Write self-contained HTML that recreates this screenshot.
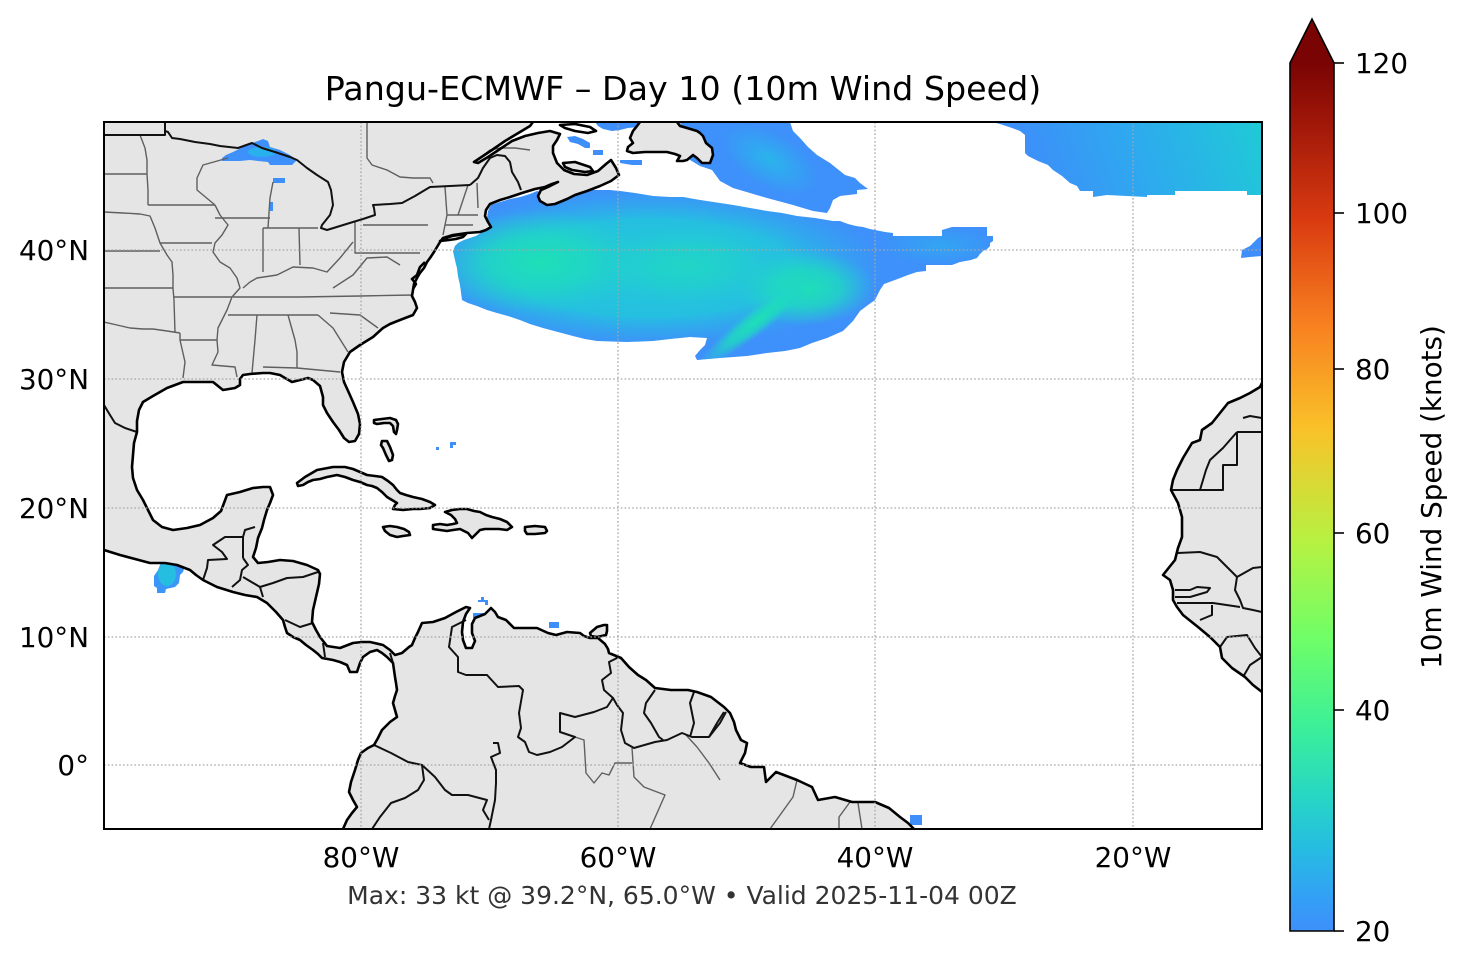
<!DOCTYPE html>
<html><head><meta charset="utf-8"><style>
html,body{margin:0;padding:0;background:#fff;}
svg{display:block;}
text{font-family:"DejaVu Sans","Liberation Sans",sans-serif;}
</style></head><body>
<svg width="1466" height="969" viewBox="0 0 1466 969" xmlns="http://www.w3.org/2000/svg">
<defs>
<clipPath id="mapclip"><rect x="104" y="122" width="1158" height="707"/></clipPath>
<linearGradient id="cbar" x1="0" y1="1" x2="0" y2="0">
<stop offset="0" stop-color="#3f8ffa"/>
<stop offset="0.036" stop-color="#339ff6"/>
<stop offset="0.096" stop-color="#26bde1"/>
<stop offset="0.157" stop-color="#27d7c3"/>
<stop offset="0.236" stop-color="#3cf098"/>
<stop offset="0.337" stop-color="#6ffe67"/>
<stop offset="0.446" stop-color="#b5f242"/>
<stop offset="0.578" stop-color="#f9c229"/>
<stop offset="0.699" stop-color="#f88020"/>
<stop offset="0.819" stop-color="#d93b10"/>
<stop offset="0.94" stop-color="#9b1408"/>
<stop offset="1" stop-color="#7a0403"/>
</linearGradient>
<radialGradient id="gCyan"><stop offset="0" stop-color="#22cbd6"/><stop offset="0.6" stop-color="#24c2df" stop-opacity="0.95"/><stop offset="1" stop-color="#2bb0ea" stop-opacity="0"/></radialGradient>
<radialGradient id="gTeal"><stop offset="0" stop-color="#1ee0b6"/><stop offset="0.5" stop-color="#1fd8c2" stop-opacity="0.8"/><stop offset="1" stop-color="#22cfd0" stop-opacity="0"/></radialGradient>
<radialGradient id="gLight"><stop offset="0" stop-color="#2ab4ec"/><stop offset="1" stop-color="#2ab4ec" stop-opacity="0"/></radialGradient>
<linearGradient id="gTR" x1="1040" y1="200" x2="1262" y2="122" gradientUnits="userSpaceOnUse"><stop offset="0" stop-color="#3d8ff9"/><stop offset="0.45" stop-color="#2ea9ef"/><stop offset="1" stop-color="#1fcad6"/></linearGradient>
<clipPath id="cMain"><path d="M453,251 L455,246 458,243 464,240 470,238 476,236 481,233 485,228 487,218 488,211 491,205 500,202 510,199 520,197 530,194 537,191 545,193 553,195 562,193 575,191 587,190 600,190 610,190 620,191 635,193 653,196 670,197 683,197 700,200 720,203 733,205 750,208 767,211 782,213 797,216 815,218 833,221 840,221 848,224 856,226 863,227 870,229 875,230 885,232 893,233 893,236 942,236 942,230 952,227 987,227 987,236 993,236 993,241 990,243 990,246 987,249 983,251 980,254 977,258 971,260 960,262 952,265 926,265 926,271 917,272 908,275 895,280 884,284 880,290 875,300 868,305 860,311 853,321 843,331 827,338 812,343 800,348 785,351 767,353 747,356 720,358 697,360 695,356 700,350 705,345 707,338 690,337 670,339 653,341 627,342 597,341 585,339 573,336 558,332 543,328 530,324 520,320 508,316 497,313 487,310 477,306 468,303 462,300 461,292 460,285 458,276 457,268 455,260 Z"/></clipPath>
</defs>

<g clip-path="url(#mapclip)">
 <g clip-path="url(#cMain)">
  <rect x="440" y="180" width="570" height="190" fill="#3e90fa"/>
  <ellipse cx="650" cy="268" rx="235" ry="80" fill="url(#gCyan)"/>
  <ellipse cx="540" cy="262" rx="105" ry="52" fill="url(#gTeal)"/>
  <ellipse cx="690" cy="265" rx="90" ry="40" fill="url(#gTeal)" opacity="0.55"/>
  <ellipse cx="805" cy="288" rx="70" ry="38" fill="url(#gTeal)"/>
  <ellipse cx="758" cy="320" rx="75" ry="13" transform="rotate(-38 758 320)" fill="url(#gTeal)"/>
  <ellipse cx="940" cy="246" rx="60" ry="20" fill="url(#gLight)" opacity="0.6"/>
 </g>
 <path d="M680,122 L790,122 793,131 800,138 808,147 817,155 830,163 840,171 845,175 855,178 860,183 864,186 868,189 857,190 857,194 840,196 833,200 830,208 827,213 813,211 793,205 767,198 750,193 733,188 720,181 712,170 700,166 690,160 685,140 Z" fill="#3e90fa"/>
 <ellipse cx="770" cy="160" rx="55" ry="28" transform="rotate(30 770 160)" fill="url(#gLight)"/>
 <path d="M993,122 L1262,122 1262,195 1247,195 1247,191 1175,191 1175,195 1147,195 1147,197 1107,195 1093,197 1093,191 1080,191 1077,186 1070,183 1062,176 1053,170 1048,165 1038,161 1028,156 1025,153 1025,135 1020,131 1012,128 1003,125 Z" fill="url(#gTR)"/>
 <polygon points="1241,258 1242,250 1250,246 1255,241 1258,238 1262,236 1262,256 1250,257" fill="#3f8ffa"/>
 <polygon points="160,565 165,559 172,558 178,561 180,567 184,569 183,572 180,575 179,583 175,587 166,589 165,593 157,593 157,588 154,586 154,576 158,570" fill="#3a96f7"/>
 <ellipse cx="167" cy="574" rx="9" ry="12" fill="#26bee0"/>
 <rect x="436" y="447" width="3" height="3" fill="#3f8ffa"/>
 <polygon points="450,442 456,442 456,445 453,445 453,448 450,448" fill="#3f8ffa"/>
 <polygon points="481,597 484,597 484,600 488,600 488,605 485,605 485,602 478,602 478,600 481,600" fill="#3f8ffa"/>
 <polygon points="473,613 484,613 485,617 473,618" fill="#3f8ffa"/>
 <rect x="549" y="622" width="10" height="6" fill="#3f8ffa"/>
 <rect x="910" y="815" width="12" height="10" fill="#3f8ffa"/>
</g>

<g clip-path="url(#mapclip)" fill="#e5e5e5" stroke="none">
 <polygon points="104,122 533,122 530,126 520,132 505,141 492,150 480,158 474,162 478,163 488,157 500,149 512,141 525,136 538,133 550,131 560,134 557,140 553,146 553,153 557,163 564,170 574,174 587,175 598,171 606,164 611,160 616,168 619,175 611,181 600,186 587,191 575,195 567,199 555,204 547,205 540,201 538,196 541,190 550,186 558,182 552,184 545,187 535,189 522,193 510,197 500,200 490,204 486,210 485,216 488,222 491,227 486,230 480,232 467,233 453,235 443,238 440,242 437,247 434,252 430,258 427,262 424,268 420,273 417,278 414,284 413,290 412,296 415,302 417,308 413,315 400,320 390,324 383,328 373,337 360,345 350,352 344,362 342,372 344,382 349,393 353,402 358,414 360,424 359,434 355,441 349,442 344,438 339,430 333,422 327,413 323,405 323,397 320,386 313,380 308,378 300,380 292,382 285,378 280,375 270,373 263,373 250,374 243,375 240,379 240,385 235,388 223,390 213,382 200,382 183,382 167,388 153,396 143,402 139,410 137,421 137,432 134,443 133,455 132,467 133,478 137,490 143,500 148,510 153,520 162,527 173,530 187,528 200,525 213,518 221,511 224,503 227,495 240,492 253,488 263,487 270,487 273,495 270,503 267,510 264,520 262,528 258,538 256,548 253,557 258,563 268,562 280,560 293,561 307,565 318,570 320,574 319,584 316,597 313,610 312,622 316,630 320,637 327,646 340,648 353,643 362,642 370,642 383,645 390,650 395,655 402,653 409,647 412,645 415,638 418,632 422,623 433,622 445,618 456,612 466,607 470,608 466,614 463,622 462,632 463,640 466,648 472,648 475,641 472,633 472,624 475,618 485,614 491,608 495,612 498,617 506,620 514,628 525,628 537,628 548,633 556,635 567,632 580,633 584,636 590,638 598,638 605,644 608,649 609,653 621,658 629,667 638,675 646,680 655,688 671,690 688,690 697,692 711,697 724,707 730,713 734,722 736,730 741,740 747,743 745,753 740,763 751,767 764,767 766,782 776,772 797,780 812,787 818,800 835,797 852,802 875,802 889,808 900,817 908,823 914,829 343,829 347,820 352,813 357,807 353,800 349,792 351,782 355,770 358,760 361,753 368,748 374,745 378,738 382,730 390,722 397,717 395,710 393,703 395,696 397,690 396,683 395,677 394,670 393,663 387,657 382,653 377,650 370,652 363,657 360,663 357,672 350,672 347,665 340,662 333,660 322,658 318,654 313,650 306,645 300,640 293,637 287,633 285,627 283,620 276,612 267,603 257,597 245,595 233,592 217,587 203,580 196,575 190,570 177,565 165,563 150,563 135,559 120,555 104,550"/>
 <polygon points="1262,383 1260,387 1250,393 1240,398 1228,403 1220,413 1212,423 1202,430 1200,440 1192,443 1183,458 1177,470 1173,480 1171,490 1178,503 1182,517 1182,537 1178,548 1175,560 1163,575 1170,580 1173,590 1173,600 1177,607 1183,615 1198,627 1210,637 1220,647 1222,658 1232,668 1245,677 1253,685 1262,692"/>
 <polygon points="640,122 637,126 633,131 630,138 633,143 628,147 627,151 633,153 645,152 655,152 667,152 675,154 680,156 677,161 683,161 687,160 693,155 697,158 702,163 707,163 710,163 713,155 712,148 706,143 703,136 700,133 697,131 687,128 680,126 677,122"/>
 <polygon points="297,483 305,477 317,470 333,467 345,467 353,469 360,472 367,475 375,476 382,477 388,481 393,485 397,490 400,493 406,495 413,497 422,499 430,502 435,505 430,508 420,509 413,509 403,510 393,509 395,505 397,503 392,500 387,497 382,492 377,488 372,486 367,485 360,482 353,480 345,477 337,475 332,476 327,477 320,479 313,480 308,482 303,485 298,486"/>
 <polygon points="445,512 452,510 460,509 467,509 474,511 480,512 486,515 492,517 500,519 507,522 512,527 507,530 499,529 492,529 485,529 480,530 476,534 472,538 468,533 464,531 460,529 453,530 447,531 440,530 433,529 433,525 440,524 447,525 453,524 457,523 455,519 451,515"/>
 <polygon points="383,527 390,526 397,527 404,529 409,532 410,535 403,536 397,537 390,535 385,531"/>
 <polygon points="525,527 535,526 545,527 547,531 545,533 535,534 527,534 525,531"/>
 <polygon points="374,420 382,419 390,418 396,420 398,424 397,430 396,434 394,432 393,426 390,423 384,423 377,424 374,423"/>
 <polygon points="382,441 387,441 390,447 393,455 392,460 389,461 386,455 383,448 381,445"/>
 <polygon points="440,241 446,238 452,236 459,235 466,234 463,237 456,239 449,240"/>
 <polygon points="590,633 597,627 604,625 607,625 607,631 606,635 597,637 591,636"/>
 <polygon points="563,163 575,162 590,167 593,171 585,172 572,170 565,167"/>
</g>

<g clip-path="url(#mapclip)">
 <polygon points="222,158 226,155 233,152 245,146 252,143 258,141 263,139 268,141 270,147 280,150 288,154 293,157 297,160 292,165 280,165 270,165 268,162 258,161 250,160 240,161 230,161 222,161" fill="#3e90fa"/>
 <ellipse cx="262" cy="152" rx="14" ry="5" fill="#2ab0ec"/>
 <rect x="273" y="178" width="12" height="5" fill="#3f8ffa"/>
 <rect x="270" y="202" width="3" height="9" fill="#3f8ffa"/>
 <polygon points="595,122 640,122 638,127 628,128 620,130 612,131 603,129 598,126" fill="#3f8ffa"/>
 <polygon points="567,137 575,136 583,139 590,143 590,148 585,148 578,144 570,142" fill="#3f8ffa"/>
 <polygon points="593,150 603,150 603,155 593,155" fill="#3f8ffa"/>
 <polygon points="620,160 642,160 642,165 632,165 620,163" fill="#3f8ffa"/>
</g>

<g clip-path="url(#mapclip)" fill="none" stroke="#5f5f5f" stroke-width="1.4" stroke-linejoin="round">
 <polyline points="140,135 145,148 147,160 147,174 148,190 148,205"/>
 <polyline points="104,174 147,174"/>
 <polyline points="104,212 123,213 140,214 150,216 155,228 160,243 167,255 172,262 173,275 173,288 174,300 175,333"/>
 <polyline points="148,205 215,205"/>
 <polyline points="104,251 160,251"/>
 <polyline points="160,243 212,243"/>
 <polyline points="104,288 173,288"/>
 <polyline points="173,297 232,297"/>
 <polyline points="104,322 117,325 130,328 143,329 153,329 167,331 180,333"/>
 <polyline points="180,333 180,340 185,362 183,378"/>
 <polyline points="180,340 217,340"/>
 <polyline points="215,205 220,215 228,225 222,235 215,243 213,252 220,262 230,268 237,278 240,288 232,297 227,310 218,328 217,340 218,352 212,365 235,367 237,377"/>
 <polyline points="233,297 300,297 360,296 413,295"/>
 <polyline points="228,315 318,315"/>
 <polyline points="257,315 255,340 252,373"/>
 <polyline points="288,315 295,340 297,352 297,368"/>
 <polyline points="263,367 297,368 340,372"/>
 <polyline points="318,315 333,328 348,352"/>
 <polyline points="330,313 360,315 378,328"/>
 <polyline points="243,288 250,282 257,278 277,275 293,267 313,268 327,272 340,258 353,242"/>
 <polyline points="263,228 263,272"/>
 <polyline points="215,218 270,218"/>
 <polyline points="299,228 300,265"/>
 <polyline points="263,228 318,228"/>
 <polyline points="228,158 203,165 197,178 197,190 215,205"/>
 <polyline points="273,182 270,198 268,228"/>
 <polyline points="355,222 355,253 420,253"/>
 <polyline points="363,225 428,225"/>
 <polyline points="445,187 447,215 443,235"/>
 <polyline points="458,215 468,185"/>
 <polyline points="477,183 478,208"/>
 <polyline points="447,215 478,215"/>
 <polyline points="445,225 473,225"/>
 <polyline points="333,288 353,275 367,258 387,257 400,265"/>
 <polyline points="367,122 367,158 372,165 387,170 400,177 413,178 430,178 433,183"/>
 <polyline points="480,158 490,150 500,148 515,148 530,150"/>
 <polyline points="575,737 584,740 586,773 594,783 602,773 609,775 615,763 632,763"/>
 <polyline points="632,748 634,777 644,787 665,795 650,829"/>
 <polyline points="686,735 697,747 709,763 720,780"/>
 <polyline points="797,780 793,797 770,829"/>
 <polyline points="850,802 839,817 839,829"/>
 <polyline points="858,803 862,829"/>
</g>

<g clip-path="url(#mapclip)" fill="none" stroke="#111" stroke-width="2" stroke-linejoin="round">
 <polyline points="104,135 165,135 165,122"/>
 <polyline points="165,131 168,132 172,138 180,139 195,142 210,144 220,146 238,148 252,143 262,148 275,152 290,157 297,160 307,168 317,175 328,182 331,190 333,205 330,215 322,225 321,228 327,230 340,226 353,222 363,219 375,215 374,208 373,205 390,204 402,203 415,196 430,187 450,186 470,185"/>
 <polyline points="470,185 478,178 483,168 490,158 497,155 505,156 510,162 512,172 518,182 521,190"/>
 <polyline points="104,405 110,415 115,423 125,428 137,432"/>
 <polyline points="203,580 207,568 208,560 227,559 222,552 213,545 225,537 243,537 243,558"/>
 <polyline points="243,537 245,530 255,527"/>
 <polyline points="243,558 248,565 242,570 240,580 232,587"/>
 <polyline points="243,577 260,587 273,583 287,578 303,577 318,572"/>
 <polyline points="260,587 263,597"/>
 <polyline points="285,620 300,627 313,623"/>
 <polyline points="323,643 325,657"/>
 <polyline points="390,653 393,663"/>
 <polyline points="466,620 452,627 449,647 458,657 458,672 466,675 487,675 498,687 519,686 523,690 519,713 521,728 518,737 525,742 529,752 537,755 550,752 562,747 575,737 560,732 560,713 575,717 594,712 607,707 613,698 617,705 623,713 621,730 625,743 634,748 655,742 667,740 682,733 692,737 709,737 720,723 726,712"/>
 <polyline points="613,698 604,690 602,680 611,673 609,662 619,657"/>
 <polyline points="655,690 646,703 644,713 651,723 659,737 663,740"/>
 <polyline points="694,692 690,703 694,723 690,737"/>
 <polyline points="724,712 717,723 709,737"/>
 <polyline points="493,743 498,743 500,753 491,757 496,770 496,783 495,800 491,820 489,829"/>
 <polyline points="374,745 391,753 408,762 422,765 435,777 445,790 452,795 468,795 487,800 483,810 489,820"/>
 <polyline points="422,765 424,780 418,790 405,798 391,803 380,817 372,829"/>
 <polyline points="1243,418 1250,416 1262,418"/>
 <polyline points="1237,432 1262,432"/>
 <polyline points="1237,432 1237,465 1223,465 1223,490 1172,490"/>
 <polyline points="1200,490 1206,470 1210,460 1223,448 1237,432"/>
 <polyline points="1178,553 1200,552 1217,557 1237,577 1253,568 1262,567"/>
 <polyline points="1237,577 1235,590 1240,600 1243,608 1253,610 1262,612"/>
 <polyline points="1175,590 1190,590 1197,587 1210,588 1207,592 1190,597 1175,597"/>
 <polyline points="1177,603 1213,603 1240,607"/>
 <polyline points="1212,605 1212,615 1200,620"/>
 <polyline points="1220,647 1227,637 1247,635 1255,648 1262,657"/>
 <polyline points="1243,677 1250,665 1262,657"/>
</g>

<g clip-path="url(#mapclip)" fill="none" stroke="#000" stroke-width="2.6" stroke-linejoin="round">
 <polyline points="533,122 530,126 520,132 505,141 492,150 480,158 474,162 478,163 488,157 500,149 512,141 525,136 538,133 550,131 560,134 557,140 553,146 553,153 557,163 564,170 574,174 587,175 598,171 606,164 611,160 616,168 619,175 611,181 600,186 587,191 575,195 567,199 555,204 547,205 540,201 538,196 541,190 550,186 558,182 552,184 545,187 535,189 522,193 510,197 500,200 490,204 486,210 485,216 488,222 491,227 486,230 480,232 467,233 453,235 443,238 440,242 437,247 434,252 430,258 427,262 424,268 420,273 417,278 414,284 413,290 412,296 415,302 417,308 413,315 400,320 390,324 383,328 373,337 360,345 350,352 344,362 342,372 344,382 349,393 353,402 358,414 360,424 359,434 355,441 349,442 344,438 339,430 333,422 327,413 323,405 323,397 320,386 313,380 308,378 300,380 292,382 285,378 280,375 270,373 263,373 250,374 243,375 240,379 240,385 235,388 223,390 213,382 200,382 183,382 167,388 153,396 143,402 139,410 137,421 137,432 134,443 133,455 132,467 133,478 137,490 143,500 148,510 153,520 162,527 173,530 187,528 200,525 213,518 221,511 224,503 227,495 240,492 253,488 263,487 270,487 273,495 270,503 267,510 264,520 262,528 258,538 256,548 253,557 258,563 268,562 280,560 293,561 307,565 318,570 320,574 319,584 316,597 313,610 312,622 316,630 320,637 327,646 340,648 353,643 362,642 370,642 383,645 390,650 395,655 402,653 409,647 412,645 415,638 418,632 422,623 433,622 445,618 456,612 466,607 470,608 466,614 463,622 462,632 463,640 466,648 472,648 475,641 472,633 472,624 475,618 485,614 491,608 495,612 498,617 506,620 514,628 525,628 537,628 548,633 556,635 567,632 580,633 584,636 590,638 598,638 605,644 608,649 609,653 621,658 629,667 638,675 646,680 655,688 671,690 688,690 697,692 711,697 724,707 730,713 734,722 736,730 741,740 747,743 745,753 740,763 751,767 764,767 766,782 776,772 797,780 812,787 818,800 835,797 852,802 875,802 889,808 900,817 908,823 914,829"/>
 <polyline points="343,829 347,820 352,813 357,807 353,800 349,792 351,782 355,770 358,760 361,753 368,748 374,745 378,738 382,730 390,722 397,717 395,710 393,703 395,696 397,690 396,683 395,677 394,670 393,663 387,657 382,653 377,650 370,652 363,657 360,663 357,672 350,672 347,665 340,662 333,660 322,658 318,654 313,650 306,645 300,640 293,637 287,633 285,627 283,620 276,612 267,603 257,597 245,595 233,592 217,587 203,580 196,575 190,570 177,565 165,563 150,563 135,559 120,555 104,550"/>
 <polyline points="425,262 420,267 417,275 412,279 416,284 413,289"/>
 <polyline points="1262,383 1260,387 1250,393 1240,398 1228,403 1220,413 1212,423 1202,430 1200,440 1192,443 1183,458 1177,470 1173,480 1171,490 1178,503 1182,517 1182,537 1178,548 1175,560 1163,575 1170,580 1173,590 1173,600 1177,607 1183,615 1198,627 1210,637 1220,647 1222,658 1232,668 1245,677 1253,685 1262,692"/>
 <polyline points="640,122 637,126 633,131 630,138 633,143 628,147 627,151 633,153 645,152 655,152 667,152 675,154 680,156 677,161 683,161 687,160 693,155 697,158 702,163 707,163 710,163 713,155 712,148 706,143 703,136 700,133 697,131 687,128 680,126 677,122"/>
 <polygon points="297,483 305,477 317,470 333,467 345,467 353,469 360,472 367,475 375,476 382,477 388,481 393,485 397,490 400,493 406,495 413,497 422,499 430,502 435,505 430,508 420,509 413,509 403,510 393,509 395,505 397,503 392,500 387,497 382,492 377,488 372,486 367,485 360,482 353,480 345,477 337,475 332,476 327,477 320,479 313,480 308,482 303,485 298,486"/>
 <polygon points="445,512 452,510 460,509 467,509 474,511 480,512 486,515 492,517 500,519 507,522 512,527 507,530 499,529 492,529 485,529 480,530 476,534 472,538 468,533 464,531 460,529 453,530 447,531 440,530 433,529 433,525 440,524 447,525 453,524 457,523 455,519 451,515"/>
 <polygon points="383,527 390,526 397,527 404,529 409,532 410,535 403,536 397,537 390,535 385,531"/>
 <polygon points="525,527 535,526 545,527 547,531 545,533 535,534 527,534 525,531"/>
 <polygon points="374,420 382,419 390,418 396,420 398,424 397,430 396,434 394,432 393,426 390,423 384,423 377,424 374,423"/>
 <polygon points="382,441 387,441 390,447 393,455 392,460 389,461 386,455 383,448 381,445"/>
 <polygon points="440,241 446,238 452,236 459,235 466,234 463,237 456,239 449,240"/>
 <polygon points="590,633 597,627 604,625 607,625 607,631 606,635 597,637 591,636"/>
 <polygon points="563,163 575,162 590,167 593,171 585,172 572,170 565,167"/>
 <polygon points="560,125 575,124 590,127 596,131 588,133 575,131 565,128" fill="#fff"/>
</g>

<g stroke="#a6a6a6" stroke-width="1.3" stroke-dasharray="1.6,2.2" fill="none">
 <line x1="361" y1="122" x2="361" y2="829"/>
 <line x1="618" y1="122" x2="618" y2="829"/>
 <line x1="875" y1="122" x2="875" y2="829"/>
 <line x1="1133" y1="122" x2="1133" y2="829"/>
 <line x1="104" y1="250" x2="1262" y2="250"/>
 <line x1="104" y1="379" x2="1262" y2="379"/>
 <line x1="104" y1="508" x2="1262" y2="508"/>
 <line x1="104" y1="637" x2="1262" y2="637"/>
 <line x1="104" y1="765" x2="1262" y2="765"/>
</g>

<rect x="104" y="122" width="1158" height="707" fill="none" stroke="#000" stroke-width="2"/>

<text x="683" y="100" font-size="33.3" text-anchor="middle" fill="#000">Pangu-ECMWF – Day 10 (10m Wind Speed)</text>

<g font-size="27.8" text-anchor="end" fill="#000">
 <text x="89" y="260">40°N</text>
 <text x="89" y="389">30°N</text>
 <text x="89" y="518">20°N</text>
 <text x="89" y="647">10°N</text>
 <text x="89" y="775">0°</text>
</g>
<g font-size="27.8" text-anchor="middle" fill="#000">
 <text x="361" y="867">80°W</text>
 <text x="618" y="867">60°W</text>
 <text x="875" y="867">40°W</text>
 <text x="1133" y="867">20°W</text>
</g>

<text x="682" y="904" font-size="25" text-anchor="middle" fill="#333">Max: 33 kt @ 39.2°N, 65.0°W • Valid 2025-11-04 00Z</text>

<rect x="1290" y="63" width="44" height="868" fill="url(#cbar)"/>
<polygon points="1290,63 1312,19 1334,63" fill="#7a0403"/>
<path d="M1290,931 L1290,63 L1312,19 L1334,63 L1334,931 Z" fill="none" stroke="#000" stroke-width="1.6" stroke-linejoin="miter"/>
<g stroke="#000" stroke-width="1.6">
 <line x1="1334" y1="931" x2="1344" y2="931"/>
 <line x1="1334" y1="710" x2="1344" y2="710"/>
 <line x1="1334" y1="533" x2="1344" y2="533"/>
 <line x1="1334" y1="369" x2="1344" y2="369"/>
 <line x1="1334" y1="213" x2="1344" y2="213"/>
 <line x1="1334" y1="63" x2="1344" y2="63"/>
</g>
<g font-size="27.8" fill="#000">
 <text x="1355" y="941">20</text>
 <text x="1355" y="720">40</text>
 <text x="1355" y="543">60</text>
 <text x="1355" y="379">80</text>
 <text x="1355" y="223">100</text>
 <text x="1355" y="73">120</text>
</g>
<text transform="translate(1441,497) rotate(-90)" font-size="27.8" text-anchor="middle" fill="#000">10m Wind Speed (knots)</text>
</svg>
</body></html>
